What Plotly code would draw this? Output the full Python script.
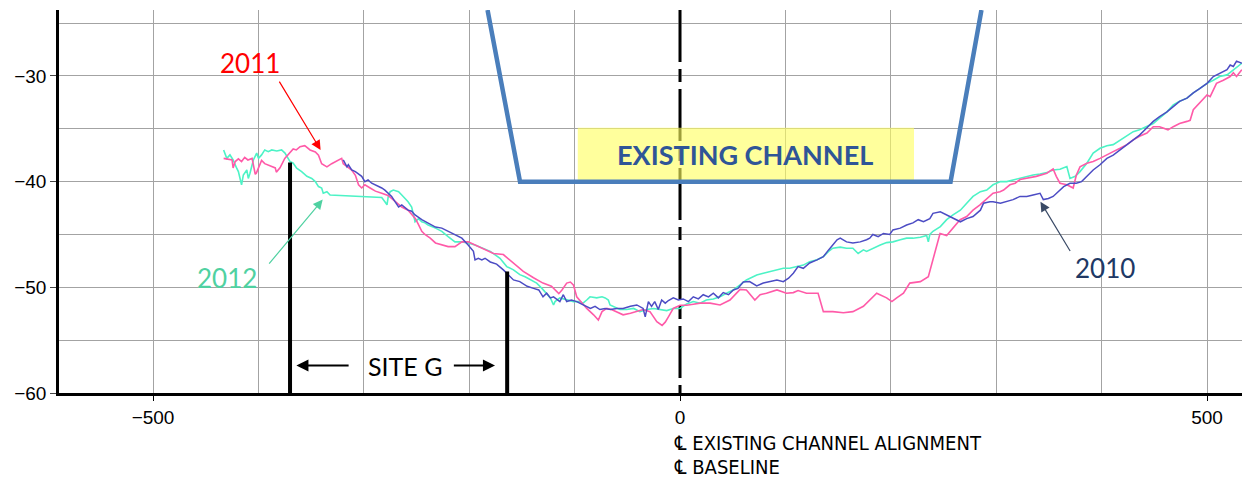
import plotly.graph_objects as go

# ---------------- data ----------------
x_2011 = [-433, -428.5, -425, -424, -422, -419, -416, -413, -410, -406, -403, -402, -400, -397, -394,
          -389, -384, -383, -379.5, -375, -370, -367, -364, -360.5, -356, -351, -346, -343, -340, -335,
          -330.5, -326, -321, -319.5, -316, -311.5, -308, -305, -302, -299, -294, -289, -283, -277, -270,
          -264, -258, -251, -248, -245, -242, -237, -232, -226, -220, -213.5, -207, -201, -194.5, -188,
          -177, -167.6, -158, -148.7, -139, -130, -122, -115, -112, -107.5, -104, -101, -98, -93, -88.5,
          -82, -77.5, -74, -69.5, -65, -60, -54, -47, -41, -35, -28.5, -25, -22, -17, -14, -11, -6.4, 0,
          6.3, 12.6, 19, 28.5, 38, 47.4, 57, 63, 71, 76, 82, 92, 101, 107.5, 112, 120, 131, 136, 145, 155,
          164, 174, 186.6, 196, 201, 205.6, 212, 218, 228, 235.6, 240, 246.7, 253, 259, 265.7, 272, 278,
          284.6, 291, 297, 303.6, 307, 313, 318, 322.6, 329, 338, 348, 354, 357, 360.5, 367, 373, 376,
          379.5, 386, 392, 398.5, 405, 411, 417.5, 424, 430, 436, 443, 449, 455, 463, 468, 474, 481, 484,
          487, 493, 500, 503, 506, 509, 515.5, 522, 525, 528, 533]
y_2011 = [-37.8, -37.85, -37.95, -38.7, -38.1, -37.85, -38.1, -37.7, -37.95, -37.8, -39.3, -39.2, -38.7, -38.0, -38.3,
          -38.5, -38.7, -39.1, -38.7, -37.8, -37.3, -36.9, -37.0, -36.7, -36.6, -37.0, -37.2, -37.5, -38.3, -38.6,
          -38.3, -38.1, -37.8, -38.3, -38.6, -38.9, -39.4, -40.3, -40.6, -40.3, -40.6, -40.9, -41.1, -41.3, -41.9,
          -42.4, -42.7, -43.5, -44.1, -44.7, -45.0, -45.35, -45.8, -46.0, -46.15, -46.15, -45.7, -45.7, -46.0, -46.3,
          -46.8, -46.9, -47.7, -48.5, -49.1, -49.6, -49.9, -50.6, -50.25, -49.6, -49.5, -49.8, -50.9, -51.5, -52.0,
          -52.6, -53.1, -52.3, -52.0, -52.1, -52.3, -52.6, -52.45, -52.3, -52.1, -52.3, -52.8, -53.25, -53.6, -53.3, -52.8, -52.0, -51.7,
          -51.7, -51.6, -51.5, -51.5, -51.67, -51.2, -50.2, -50.25, -51.2, -50.7, -50.56, -50.25, -50.56, -50.5, -50.3, -50.56, -50.56, -52.3, -52.3, -52.4,
          -52.3, -51.8, -50.56, -51.0, -51.35, -51.0, -50.56, -49.6, -49.46, -49.0, -47.4, -44.9, -45.1, -44.4, -43.6, -43.3, -42.7,
          -42.2, -41.6, -41.1, -40.95, -40.8, -40.3, -40.15, -39.8, -39.7, -39.5, -39.2, -38.8, -39.5, -40.15, -40.3, -40.6, -39.4,
          -38.6, -38.26, -38.1, -37.8, -37.5, -37.16, -36.84, -36.5, -36.05, -35.7, -35.4, -34.8, -34.8, -35.1, -34.8, -34.5, -34.3, -34.2,
          -33.2, -32.6, -31.8, -31.95, -31.3, -30.7, -30.4, -30.06, -29.7, -30.06, -29.4]

x_2010 = [-319.5, -316, -314.7, -311.5, -308, -302, -299, -296, -292.5, -289, -286, -283, -280, -277, -273.6,
          -270.4, -267, -264, -261, -258, -254.6, -251.4, -245, -239, -232, -226, -220, -213.5, -207, -201,
          -196, -194.5, -191.4, -188, -185, -180, -174, -167.6, -161, -158, -152, -145, -139, -134, -130,
          -126.5, -123, -120, -114, -110.7, -107.5, -103, -98, -92, -85, -80.6, -76, -71, -66, -60, -54, -47,
          -41, -35, -33, -30, -27, -24, -20.6, -17.4, -14, -11, -6.4, -1.6, 3, 8, 12.6, 17.4, 22, 27, 31.6,
          36.4, 41, 46, 50.6, 55, 60, 66, 72.8, 79, 85, 92, 98, 103, 107.5, 112, 117, 123, 130, 136, 141,
          145, 149, 152, 158, 164, 171, 177, 180, 183, 188, 193, 199, 202, 209, 215, 221, 226, 231, 237,
          240, 247, 253, 259, 266, 272, 278, 285, 288, 294, 297, 304, 310, 316, 322.6, 329, 335, 341.6,
          344.7, 349.5, 354, 360.5, 364, 370, 376, 381, 386, 392, 398.5, 405, 411, 417.5, 424, 430, 436,
          443, 449, 455, 462, 468, 474, 481, 487, 493, 500, 506, 512, 519, 522, 525, 528, 533]
y_2010 = [-37.95, -38.6, -38.4, -38.9, -39.05, -39.5, -40.0, -39.84, -40.15, -40.3, -40.47, -40.6, -40.8, -41.1, -41.4,
          -41.9, -42.4, -42.2, -42.5, -42.7, -42.8, -43.15, -43.6, -43.9, -44.3, -44.4, -44.7, -45.0, -45.35, -46.0,
          -46.6, -47.4, -47.25, -47.4, -47.25, -47.6, -47.8, -48.35, -49.0, -49.3, -49.46, -49.9, -50.1, -50.25, -50.9,
          -50.56, -51.0, -50.9, -51.35, -50.7, -51.35, -51.2, -51.35, -51.67, -52.0, -51.8, -52.1, -52.0, -52.1, -52.0, -52.0, -51.8,
          -51.67, -52.0, -52.8, -51.35, -51.8, -51.35, -52.1, -51.2, -51.5, -51.25, -51.0, -51.2, -51.1, -51.35, -50.9, -51.1, -50.7, -50.9, -50.56,
          -51.0, -50.5, -50.7, -50.25, -50.1, -49.5, -49.46, -49.87, -49.6, -49.46, -49.3, -49.46, -49.14, -48.67, -48.04, -48.2, -47.7, -47.4, -47.1, -46.46,
          -46.0, -45.5, -45.35, -45.7, -45.8, -45.7, -45.5, -45.35, -45.0, -45.2, -44.9, -45.0, -44.57, -44.4, -44.1, -43.9, -43.6, -43.8, -43.5,
          -43.0, -42.85, -43.15, -43.5, -43.8, -43.5, -43.3, -42.7, -42.04, -41.9, -41.9, -42.04, -41.9, -41.7, -41.4, -41.4, -41.26, -41.1,
          -41.7, -41.6, -41.4, -40.8, -40.47, -40.15, -40.15, -40.0, -39.5, -38.9, -38.4, -37.8, -37.5, -37.0, -36.5, -36.05, -35.6,
          -34.9, -34.3, -33.85, -33.4, -32.9, -32.4, -32.1, -31.6, -31.2, -30.7, -30.06, -29.75, -29.4, -28.96, -29.1, -28.6, -28.8]

x_2012 = [-433, -431.7, -430, -427, -424, -420.6, -419, -416, -414.3, -411, -409.6, -408, -406.4, -404.8, -401.6,
          -400, -397, -394, -390.6, -387.4, -382.6, -378, -374.8, -371.6, -370, -367, -363.7, -359, -354, -349.4,
          -346, -343, -340, -338.5, -335, -332, -314.7, -299, -283, -280, -278, -276.8, -275, -272, -267, -264,
          -261, -258, -254.6, -253, -251.4, -248, -245, -242, -239, -232, -226, -220, -213.5, -207, -201, -194.5,
          -188, -180, -170.8, -164.4, -158, -152, -147, -142, -136, -131, -126.5, -123, -120, -118.6, -114,
          -107.5, -101, -95, -92, -88.5, -85.4, -79, -74, -71, -68, -66.4, -63, -57, -50.6, -44, -38, -31.6, -25,
          -19, -12.6, -6.4, 0, 6.3, 12.6, 19, 25, 31.6, 38, 44, 50.6, 57, 63, 66.4, 72.8, 79, 85, 92, 98, 104,
          110.7, 117, 123, 130, 136, 141, 145, 152, 158, 164, 169, 174, 177, 183, 190, 196, 202, 209, 215, 221,
          228, 234, 235.6, 237, 240, 247, 253, 259, 266, 272, 278, 285, 291, 297, 304, 310, 316, 322.6, 329,
          335, 341.6, 348, 354, 360.5, 367, 370, 375, 379.5, 386, 392, 398.5, 405, 411, 417.5, 424, 430, 436,
          443, 449, 455, 462, 468, 474, 481, 487, 493, 500, 506, 512, 519, 525, 533]
y_2012 = [-37.0, -37.3, -37.8, -37.47, -37.95, -38.73, -39.05, -40.3, -39.37, -38.9, -39.7, -39.2, -38.58, -37.95, -37.3,
          -37.8, -37.47, -37.0, -37.16, -37.0, -37.1, -37.0, -37.3, -37.8, -38.1, -38.26, -38.73, -39.05, -39.5, -39.7,
          -40.0, -40.47, -40.6, -41.1, -40.95, -41.26, -41.35, -41.4, -41.5, -41.9, -42.2, -41.4, -40.95, -40.8, -40.95, -41.26,
          -41.57, -41.9, -42.4, -43.3, -43.8, -43.5, -43.8, -43.9, -44.1, -44.4, -44.7, -45.2, -45.7, -45.7, -45.8, -46.0,
          -46.3, -46.6, -47.25, -48.04, -48.35, -48.8, -49.0, -49.3, -49.6, -50.1, -50.56, -51.0, -51.67, -51.35, -51.0,
          -51.2, -51.35, -51.35, -51.5, -51.2, -50.9, -51.0, -50.9, -51.0, -51.2, -51.67, -51.8, -52.1, -52.1, -52.0, -52.3, -52.1, -52.0,
          -52.1, -52.2, -52.0, -52.0, -51.57, -51.35, -51.5, -51.2, -51.1, -50.9, -50.56, -50.25, -49.77, -49.3, -49.14, -48.83, -48.67, -48.5, -48.35, -48.2, -48.2,
          -48.04, -47.9, -47.57, -47.4, -47.1, -46.6, -46.3, -46.2, -46.3, -46.3, -46.8, -46.46, -46.6, -46.3, -46.0, -45.77, -45.7, -45.5, -45.35, -45.35,
          -45.26, -45.1, -45.7, -45.0, -44.7, -44.26, -43.6, -43.15, -42.7, -42.04, -41.4, -40.95, -40.8, -40.3, -40.0, -40.0, -39.84, -39.7, -39.46,
          -39.37, -39.27, -39.15, -38.9, -38.83, -38.58, -39.7, -39.5, -39.05, -38.26, -37.3, -36.84, -36.6, -36.5, -36.05, -35.6, -35.27, -35.1,
          -34.8, -34.5, -34.0, -33.4, -32.74, -32.4, -32.1, -31.6, -31.2, -30.7, -30.4, -30.06, -29.9, -29.4, -28.8]

# existing channel outline
channel_x = [-182.6, -151.8, 256.7, 286.0]
channel_y = [-23.76, -40.0, -40.0, -23.76]

# SITE G limits (x, top elevation)
site_g_x = [-370, -164]
site_g_top = [-38.2, -48.5]

x_range = [-589.2, 533.2]
y_range = [-60, -23.76]

# ---------------- figure ----------------
fig = go.Figure()

fig.add_trace(go.Scatter(x=x_2012, y=y_2012, mode="lines", name="2012",
                         line=dict(color="#4DF3C6", width=1.6)))
fig.add_trace(go.Scatter(x=x_2011, y=y_2011, mode="lines", name="2011",
                         line=dict(color="#FF5AA8", width=1.6)))
fig.add_trace(go.Scatter(x=x_2010, y=y_2010, mode="lines", name="2010",
                         line=dict(color="#4C4CC4", width=1.5)))
fig.add_trace(go.Scatter(x=channel_x, y=channel_y, mode="lines", name="channel",
                         line=dict(color="#4A7EBB", width=4.5)))

shapes = []
# centre line at x = 0 (white underlay hides the grid, then dashed black)
shapes.append(dict(type="line", xref="x", yref="y", x0=0, x1=0, y0=y_range[1], y1=y_range[0],
                   line=dict(color="white", width=3), layer="between"))
shapes.append(dict(type="line", xref="x", yref="y", x0=0, x1=0, y0=y_range[1], y1=y_range[0],
                   line=dict(color="black", width=3, dash="52px,7px,13px,7px"), layer="between"))
# yellow label box
shapes.append(dict(type="rect", xref="x", yref="y", x0=-97, x1=222, y0=-40.0, y1=-34.9,
                   fillcolor="rgba(255,255,95,0.62)", line=dict(width=0), layer="between"))
# SITE G vertical bars
for sx, st in zip(site_g_x, site_g_top):
    shapes.append(dict(type="line", xref="x", yref="y", x0=sx, x1=sx, y0=y_range[0], y1=st,
                       line=dict(color="black", width=4), layer="above"))

note_font = dict(family="Liberation Sans Narrow, Arial Narrow, DejaVu Sans Condensed, sans-serif",
                 size=20, color="black")
annotations = [
    dict(x=62, y=-37.4, xref="x", yref="y", text="<b>EXISTING CHANNEL</b>", showarrow=False,
         font=dict(family="Lato, Open Sans, sans-serif", size=27, color="#2F5597")),
    dict(x=-261, y=-57.4, xref="x", yref="y", text="SITE G", showarrow=False,
         font=dict(family="Lato, Open Sans, sans-serif", size=25, color="black")),
    # SITE G arrows
    dict(x=-364, y=-57.4, ax=-313, ay=-57.4, xref="x", yref="y", axref="x", ayref="y", text="",
         showarrow=True, arrowhead=2, arrowsize=1.1, arrowwidth=2.2, arrowcolor="black"),
    dict(x=-175.5, y=-57.4, ax=-216, ay=-57.4, xref="x", yref="y", axref="x", ayref="y", text="",
         showarrow=True, arrowhead=2, arrowsize=1.1, arrowwidth=2.2, arrowcolor="black"),
    # year labels
    dict(x=-408, y=-28.8, xref="x", yref="y", text="2011", showarrow=False,
         font=dict(family="Lato, Open Sans, sans-serif", size=26, color="#FF0000")),
    dict(x=-341, y=-37.0, ax=-381, ay=-30.4, xref="x", yref="y", axref="x", ayref="y", text="",
         showarrow=True, arrowhead=2, arrowsize=1.6, arrowwidth=1.2, arrowcolor="#FF0000"),
    dict(x=-430, y=-49.1, xref="x", yref="y", text="2012", showarrow=False,
         font=dict(family="Lato, Open Sans, sans-serif", size=26, color="#4FD1A1")),
    dict(x=-339, y=-41.7, ax=-391, ay=-47.9, xref="x", yref="y", axref="x", ayref="y", text="",
         showarrow=True, arrowhead=2, arrowsize=1.6, arrowwidth=1.2, arrowcolor="#4FD1A1"),
    dict(x=403, y=-48.2, xref="x", yref="y", text="2010", showarrow=False,
         font=dict(family="Lato, Open Sans, sans-serif", size=26, color="#203864")),
    dict(x=342, y=-41.9, ax=371, ay=-46.7, xref="x", yref="y", axref="x", ayref="y", text="",
         showarrow=True, arrowhead=2, arrowsize=1.6, arrowwidth=1.2, arrowcolor="#3A4A66"),
    # centre line notes under the axis
    dict(x=-8, y=-0.1305, xref="x", yref="paper", xanchor="left", yanchor="middle",
         text="\u2104 EXISTING CHANNEL ALIGNMENT", showarrow=False, font=note_font),
    dict(x=-8, y=-0.193, xref="x", yref="paper", xanchor="left", yanchor="middle",
         text="\u2104 BASELINE", showarrow=False, font=note_font),
]

grid_col = "#A3A3A3"
tick_font = dict(family="Liberation Sans, Arial, sans-serif", size=19, color="#000")
fig.update_layout(
    width=1242, height=480,
    margin=dict(l=59, r=0, t=10, b=87),
    paper_bgcolor="white", plot_bgcolor="white",
    showlegend=False,
    shapes=shapes, annotations=annotations,
    xaxis=dict(range=x_range, tick0=0, dtick=500, showgrid=True, gridcolor=grid_col, gridwidth=1,
               minor=dict(dtick=100, tick0=0, showgrid=True, gridcolor=grid_col, gridwidth=1),
               showline=True, linecolor="black", linewidth=2.5, mirror=False,
               ticks="outside", ticklen=5, tickcolor="black", tickwidth=1,
               zeroline=False, automargin=False, tickfont=tick_font),
    yaxis=dict(range=y_range, tick0=0, dtick=10, showgrid=True, gridcolor=grid_col, gridwidth=1,
               minor=dict(dtick=5, tick0=0, showgrid=True, gridcolor=grid_col, gridwidth=1),
               showline=True, linecolor="black", linewidth=2.5,
               ticks="outside", ticklen=6, tickcolor="#444", tickwidth=1,
               zeroline=False, automargin=False, tickfont=tick_font),
)

fig.write_html(
    "out.html",
    config={"displayModeBar": False},
    post_script="document.body.style.margin='0';document.body.style.overflow='hidden';",
)
